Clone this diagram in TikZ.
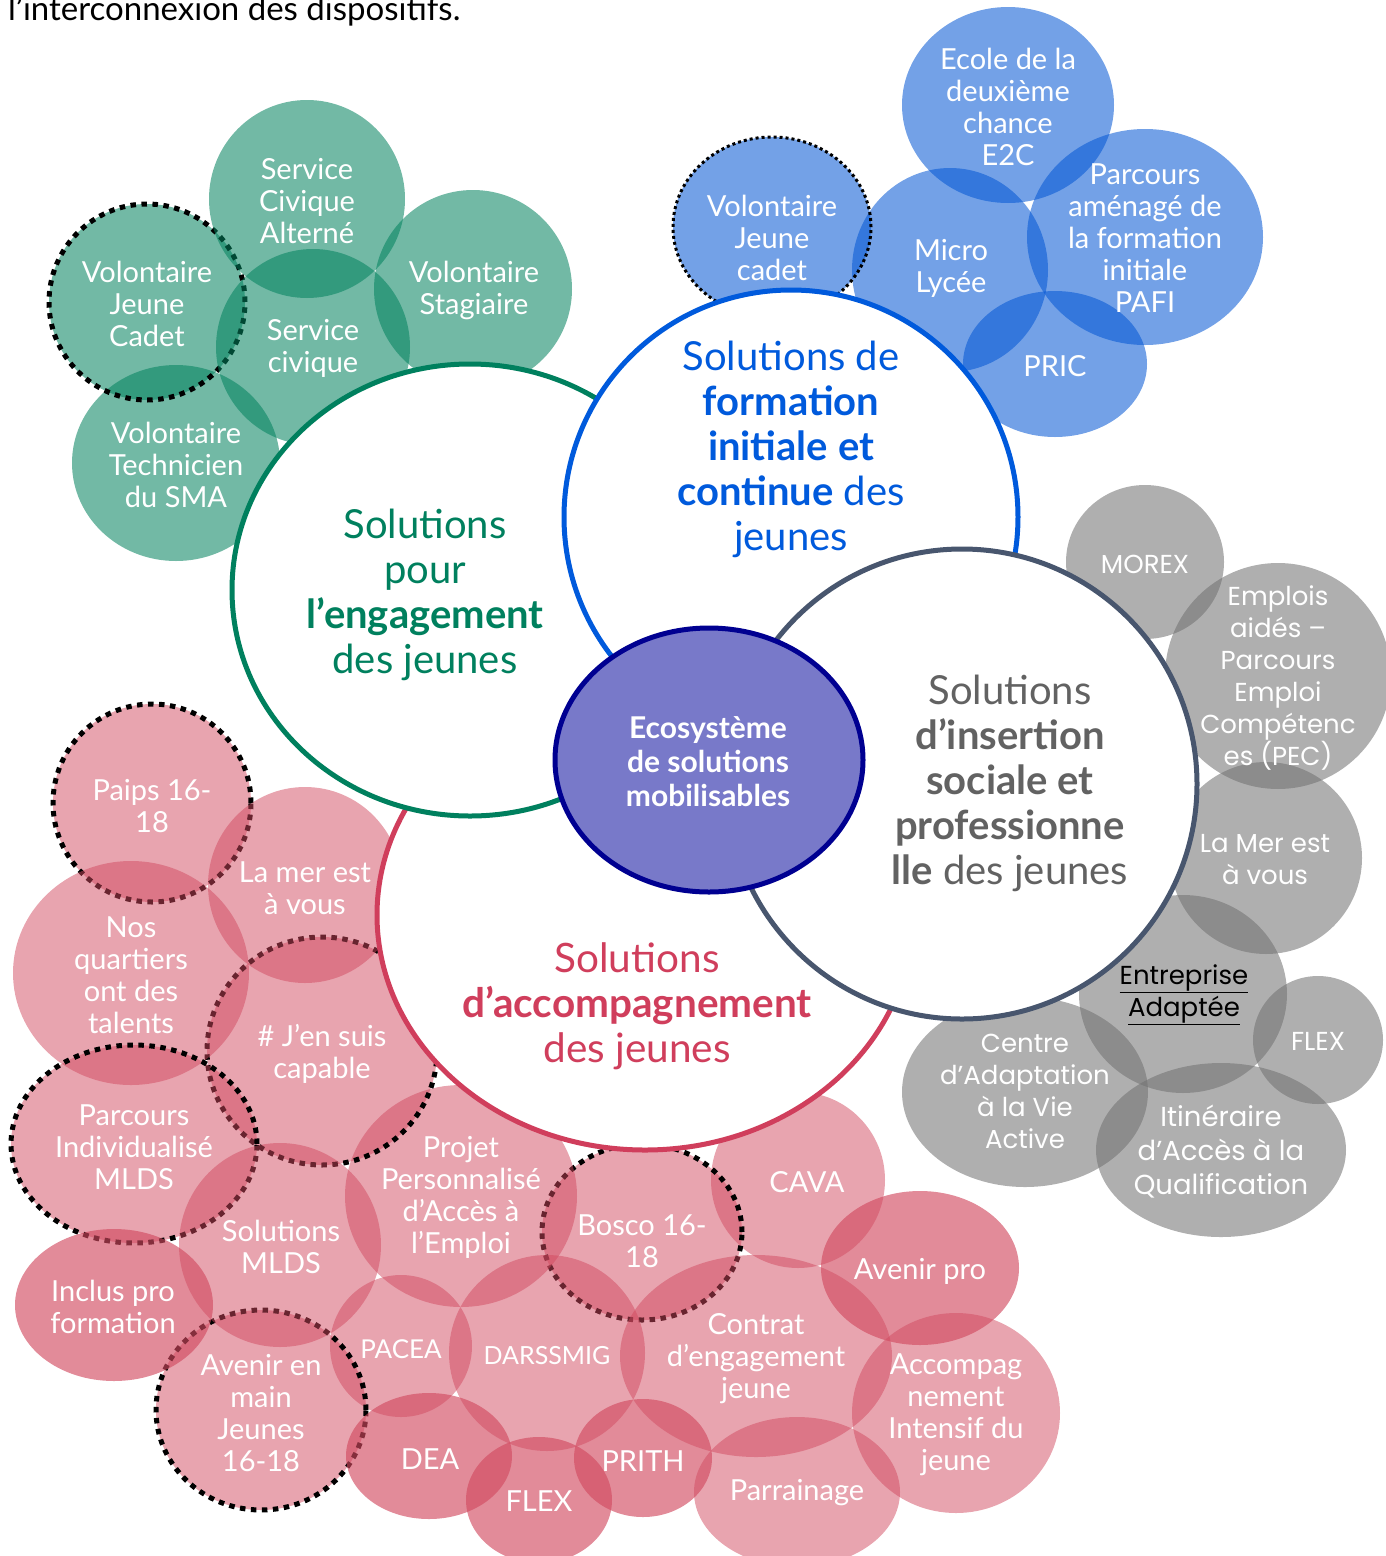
\documentclass[tikz,border=0pt]{standalone}
\usepackage{fontspec}
\setmainfont{Lato}
\newfontfamily\gothic{Poppins}
\definecolor{gC}{RGB}{3,130,94}
\definecolor{bC}{RGB}{0,84,211}
\definecolor{grC}{RGB}{113,113,113}
\definecolor{pC}{RGB}{209,73,95}
\definecolor{gLine}{RGB}{0,128,94}
\definecolor{bLine}{RGB}{0,90,220}
\definecolor{grLine}{RGB}{72,86,110}
\definecolor{rLine}{RGB}{208,62,92}
\definecolor{navy}{RGB}{0,0,145}
\definecolor{purp}{RGB}{120,121,201}
\definecolor{grText}{RGB}{98,98,98}
\begin{document}
\begin{tikzpicture}[x=1pt,y=-1pt,
  gfill/.style={fill=gC, fill opacity=0.56},
  bfill/.style={fill=bC, fill opacity=0.55},
  grfill/.style={fill=grC, fill opacity=0.56},
  pfill/.style={fill=pC, fill opacity=0.5},
  pdark/.style={fill=pC, fill opacity=0.64},
  dotb/.style={draw=black, line width=5pt, dash pattern=on 5.5pt off 5.5pt},
  dots/.style={draw=black, line width=3pt, dash pattern=on 3pt off 3pt},
  lbl/.style={text=white, align=center, font=\fontsize{29}{32}\selectfont, inner sep=0pt},
  glbl/.style={lbl, font=\gothic\fontsize{26}{32}\selectfont},
  big/.style={fill=white, line width=5pt},
  head/.style={align=center, font=\fontsize{40}{45}\selectfont, inner sep=0pt}]
\useasboundingbox (0,0) rectangle (1386,1556);
\clip (0,0) rectangle (1386,1556);

% intro text (cut at top, as in the reference)
\node[anchor=base west, font=\fontsize{33}{36}\selectfont, inner sep=0pt] (intro) at (8,20) {l’interconnexion des dispositifs.};

% ---------- green group ----------
\path[gfill] (176,463) ellipse [x radius=104pt, y radius=98pt];
\path[gfill,dotb] (147,302) ellipse [x radius=98pt, y radius=98pt];
\path[gfill] (307,199) ellipse [x radius=98pt, y radius=99pt];
\path[gfill] (313,347) ellipse [x radius=97pt, y radius=98pt];
\path[gfill] (473,289) ellipse [x radius=99pt, y radius=99pt];

% ---------- blue group ----------
\path[bfill] (1008,105) ellipse [x radius=106pt, y radius=98pt];
\path[bfill] (1145,237) ellipse [x radius=118pt, y radius=108pt];
\path[bfill] (950,270) ellipse [x radius=98pt, y radius=102pt];
\path[bfill] (1055,364) ellipse [x radius=92pt, y radius=73pt];
\path[bfill,dots] (772,227) ellipse [x radius=99pt, y radius=90pt];

% ---------- grey group ----------
\path[grfill] (1145,562) ellipse [x radius=79pt, y radius=77pt];
\path[grfill] (1278,676) ellipse [x radius=113pt, y radius=113pt];
\path[grfill] (1266,858) ellipse [x radius=96pt, y radius=96pt];
\path[grfill] (1183,994) ellipse [x radius=104pt, y radius=99pt];
\path[grfill] (1318,1040) ellipse [x radius=65pt, y radius=64pt];
\path[grfill] (1025,1092) ellipse [x radius=123pt, y radius=95pt];
\path[grfill] (1221,1150) ellipse [x radius=125pt, y radius=87pt];

% ---------- pink group ----------
\path[pfill] (798,1180) ellipse [x radius=87pt, y radius=88pt];
\path[pfill,dotb] (642,1232) ellipse [x radius=100pt, y radius=88pt];
\path[pfill] (461,1196) ellipse [x radius=116pt, y radius=111pt];
\path[pfill,dotb] (152,803) ellipse [x radius=99pt, y radius=99pt];
\path[pfill,dotb] (322,1051) ellipse [x radius=115pt, y radius=114pt];
\path[pfill] (305,885) ellipse [x radius=97pt, y radius=98pt];
\path[pfill] (131,973) ellipse [x radius=118pt, y radius=112pt];
\path[pfill,dotb] (134,1144) ellipse [x radius=123pt, y radius=99pt];
\path[pfill] (401,1346) ellipse [x radius=71pt, y radius=71pt];
\path[pfill,dotb] (261,1410) ellipse [x radius=105pt, y radius=100pt];
\path[pfill] (280,1245) ellipse [x radius=101pt, y radius=102pt];
\path[pdark] (114,1305) ellipse [x radius=99pt, y radius=76pt];
\path[pfill] (547,1353) ellipse [x radius=98pt, y radius=98pt];
\path[pfill] (756,1356) ellipse [x radius=136pt, y radius=101pt];
\path[pdark] (920,1268) ellipse [x radius=99pt, y radius=77pt];
\path[pfill] (956,1413) ellipse [x radius=104pt, y radius=100pt];
\path[pdark] (429,1456) ellipse [x radius=83pt, y radius=63pt];
\path[pdark] (539,1500) ellipse [x radius=73pt, y radius=63pt];
\path[pdark] (643,1458) ellipse [x radius=69pt, y radius=59pt];
\path[pfill] (797,1492) ellipse [x radius=103pt, y radius=75pt];

% ---------- big circles ----------
\path[big, draw=rLine] (645,915) ellipse [x radius=268pt, y radius=235pt];
\path[big, draw=gLine] (470,590) ellipse [x radius=238pt, y radius=226pt];
\path[big, draw=bLine] (791,517) ellipse [x radius=227pt, y radius=227pt];
\path[big, draw=grLine] (962,784) ellipse [x radius=235pt, y radius=235pt];
\path[fill=purp, draw=navy, line width=5pt] (709,760) ellipse [x radius=154pt, y radius=132pt];

% ---------- headings ----------
\node[head, text=gLine] (hEng) at (425,595) {Solutions\\pour\\\textbf{l’engagement}\\des jeunes};
\node[head, text=bLine] (hForm) at (791,449) {Solutions de\\\textbf{formation}\\\textbf{initiale et}\\\textbf{continue} des\\jeunes};
\node[head, text=grText] (hIns) at (1010,783) {Solutions\\\textbf{d’insertion}\\\textbf{sociale et}\\\textbf{professionne}\\\textbf{lle} des jeunes};
\node[head, text=rLine, font=\fontsize{40.5}{45}\selectfont] (hAcc) at (637,1006) {Solutions\\\textbf{d’accompagnement}\\des jeunes};
\node[lbl, font=\bfseries\fontsize{30}{34}\selectfont] (hEco) at (708,762) {Ecosystème\\de solutions\\mobilisables};

% ---------- green labels ----------
\node[lbl] (tSCA) at (307,201) {Service\\Civique\\Alterné};
\node[lbl] (tVS) at (474,290) {Volontaire\\Stagiaire};
\node[lbl] (tVJC) at (147,304) {Volontaire\\Jeune\\Cadet};
\node[lbl] (tSC) at (313,348) {Service\\civique};
\node[lbl] (tVT) at (176,465) {Volontaire\\Technicien\\du SMA};

% ---------- blue labels ----------
\node[lbl] (tE2C) at (1008,107) {Ecole de la\\deuxième\\chance\\E2C};
\node[lbl] (tPAFI) at (1145,238) {Parcours\\aménagé de\\la formation\\initiale\\PAFI};
\node[lbl] (tML) at (951,268) {Micro\\Lycée};
\node[lbl] (tPRIC) at (1055,366) {PRIC};
\node[lbl] (tVJc) at (772,238) {Volontaire\\Jeune\\cadet};

% ---------- grey labels ----------
\node[glbl] (tMOREX) at (1145,564) {MOREX};
\node[glbl] (tPEC) at (1278,678) {Emplois\\aidés –\\Parcours\\Emploi\\Compétenc\\es (PEC)};
\node[glbl] (tMer) at (1265,860) {La Mer est\\à vous};
\node[glbl, text=black] (tEA) at (1184,995) {\underline{Entreprise}\\\underline{Adaptée}};
\node[glbl] (tFLEXg) at (1318,1041) {FLEX};
\node[glbl] (tCAVA) at (1025,1091) {Centre\\d’Adaptation\\à la Vie\\Active};
\node[glbl, font=\gothic\fontsize{27.5}{34}\selectfont] (tIAQ) at (1221,1152) {Itinéraire\\d’Accès à la\\Qualification};

% ---------- pink labels ----------
\node[lbl] (tPaips) at (152,806) {Paips 16-\\18};
\node[lbl] (tMerp) at (305,888) {La mer est\\à vous};
\node[lbl] (tNos) at (131,975) {Nos\\quartiers\\ont des\\talents};
\node[lbl] (tJen) at (322,1054) {\# J’en suis\\capable};
\node[lbl] (tPIM) at (134,1147) {Parcours\\Individualisé\\MLDS};
\node[lbl] (tSMLDS) at (281,1247) {Solutions\\MLDS};
\node[lbl] (tInclus) at (113,1307) {Inclus pro\\formation};
\node[lbl] (tAEM) at (261,1413) {Avenir en\\main\\Jeunes\\16-18};
\node[lbl] (tPPAE) at (461,1197) {Projet\\Personnalisé\\d’Accès à\\l’Emploi};
\node[lbl, font=\fontsize{26}{32}\selectfont] (tPACEA) at (401,1349) {PACEA};
\node[lbl, font=\fontsize{25}{32}\selectfont] (tDARS) at (547,1356) {DARSSMIG};
\node[lbl] (tBosco) at (642,1241) {Bosco 16-\\18};
\node[lbl] (tCAVAp) at (807,1182) {CAVA};
\node[lbl] (tAvPro) at (920,1271) {Avenir pro};
\node[lbl] (tCEJ) at (756,1359) {Contrat\\d’engagement\\jeune};
\node[lbl] (tAIJ) at (956,1415) {Accompag\\nement\\Intensif du\\jeune};
\node[lbl] (tDEA) at (430,1459) {DEA};
\node[lbl] (tFLEXp) at (539,1501) {FLEX};
\node[lbl] (tPRITH) at (643,1461) {PRITH};
\node[lbl] (tParr) at (797,1493) {Parrainage};
\end{tikzpicture}
\end{document}
